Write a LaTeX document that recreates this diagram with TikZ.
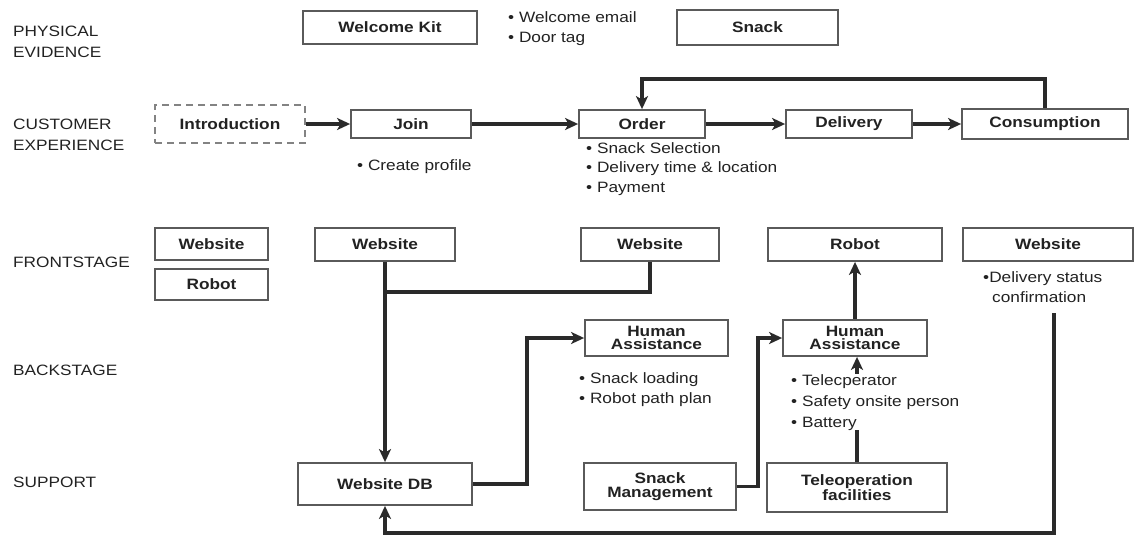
\documentclass[tikz,border=0pt]{standalone}
\usepackage{fontspec}
\setmainfont{Liberation Sans}[FakeStretch=1.15]
\usetikzlibrary{arrows.meta}
\definecolor{txt}{HTML}{222222}
\definecolor{boxgray}{HTML}{5A5A5A}
\definecolor{linec}{HTML}{2A2A2A}
\begin{document}
\begin{tikzpicture}[x=1pt,y=-1pt,
  font=\fontsize{15}{20}\selectfont,
  box/.style={draw=boxgray, line width=1.8pt, fill=white, inner sep=0pt, font=\fontsize{15}{20}\selectfont\bfseries, align=center, text=txt},
  dbox/.style={box, draw=boxgray!75, dash pattern=on 7pt off 5pt},
  twol/.style={font=\fontsize{15}{13.5}\selectfont\bfseries},
  conn/.style={line width=3.2pt, draw=linec},
  arr/.style={conn, -{Stealth[length=13pt,width=12pt,inset=3.5pt]}},
  lbl/.style={anchor=base west, inner sep=0pt, align=left, text=txt},
  rowl/.style={lbl, font=\fontsize{15}{21}\selectfont},
]
\useasboundingbox[fill=white] (0,0) rectangle (1140,541);

% row labels (anchor = baseline of last line)
\node[rowl] (pe) at (13,57) {PHYSICAL\\EVIDENCE};
\node[rowl] (ce) at (13,150) {CUSTOMER\\EXPERIENCE};
\node[rowl] (fs) at (13,267) {FRONTSTAGE};
\node[rowl] (bs) at (13,375) {BACKSTAGE};
\node[rowl] (sp) at (13,487) {SUPPORT};

% physical evidence
\node[box, minimum width=174pt, minimum height=33pt] (wk) at (390,27.5) {Welcome Kit};
\node[lbl] (wem) at (508,42) {• Welcome email\\• Door tag};
\node[box, minimum width=161pt, minimum height=35pt] (snack) at (757.5,27.5) {Snack};

% customer experience
\node[dbox, minimum width=150pt, minimum height=38pt] (intro) at (230,124) {Introduction};
\node[box, minimum width=120pt, minimum height=28pt] (join) at (411,124) {Join};
\node[box, minimum width=126pt, minimum height=28pt] (order) at (642,124) {Order};
\node[box, minimum width=126pt, minimum height=28pt] (delivery) at (849,124) {Delivery};
\node[box, minimum width=166pt, minimum height=30pt] (cons) at (1045,124) {Consumption};
\node[lbl] (cp) at (357,170) {• Create profile};
\node[lbl, font=\fontsize{15}{19.5}\selectfont] (ob) at (586,192) {• Snack Selection\\• Delivery time \& location\\• Payment};

% frontstage
\node[box, minimum width=113pt, minimum height=32pt] (ws1) at (211.5,244) {Website};
\node[box, minimum width=113pt, minimum height=31pt] (rb1) at (211.5,284.5) {Robot};
\node[box, minimum width=140pt, minimum height=33pt] (ws2) at (385,244.5) {Website};
\node[box, minimum width=138pt, minimum height=33pt] (ws3) at (650,244.5) {Website};
\node[box, minimum width=174pt, minimum height=33pt] (rb2) at (855,244.5) {Robot};
\node[box, minimum width=170pt, minimum height=33pt] (ws4) at (1048,244.5) {Website};
\node[lbl] (dsc) at (983,302) {•Delivery status\\\hspace*{9pt}confirmation};

% backstage
\node[box, twol, minimum width=143pt, minimum height=36pt] (ha1) at (656.5,338) {Human\\Assistance};
\node[box, twol, minimum width=144pt, minimum height=36pt] (ha2) at (855,338) {Human\\Assistance};
\node[lbl] (hb1) at (579,403) {• Snack loading\\• Robot path plan};

% support
\node[box, minimum width=174pt, minimum height=42pt] (db) at (385,484) {Website DB};
\node[box, twol, minimum width=152pt, minimum height=47pt] (sm) at (660,486.5) {Snack\\Management};
\node[box, twol, minimum width=180pt, minimum height=49pt] (tf) at (857,487.5) {Teleoperation\\facilities};

% coordinates
\coordinate (loop) at (1045,79);
\coordinate (j1) at (385,292);
\coordinate (k1) at (527,338);
\coordinate (k2) at (758,338);
\coordinate (s1) at (1054,313);
\coordinate (s2) at (1054,533);

% connectors
\draw[arr] (intro.east) -- (join.west);
\draw[arr] (join.east) -- (order.west);
\draw[arr] (order.east) -- (delivery.west);
\draw[arr] (delivery.east) -- (cons.west);
\draw[arr] (cons.north) -- (loop) -| (order.north);
\draw[arr] (ws2.south) -- (db.north);
\draw[conn] (ws3.south) |- (j1);
\draw[arr] (db.east) -| (k1) -- (ha1.west);
\draw[arr] (sm.east) -| (k2) -- (ha2.west);
\draw[arr] (ha2.north) -- (rb2.south);
\draw[arr] (tf.north) -- (tf.north |- ha2.south);
\draw[arr] (s1) -- (s2) -| (db.south);

% text over the teleoperation line
\node[lbl, fill=white, font=\fontsize{15}{21}\selectfont] (hb2) at (791,427) {• Telecperator\\• Safety onsite person\\• Battery};
\end{tikzpicture}
\end{document}
